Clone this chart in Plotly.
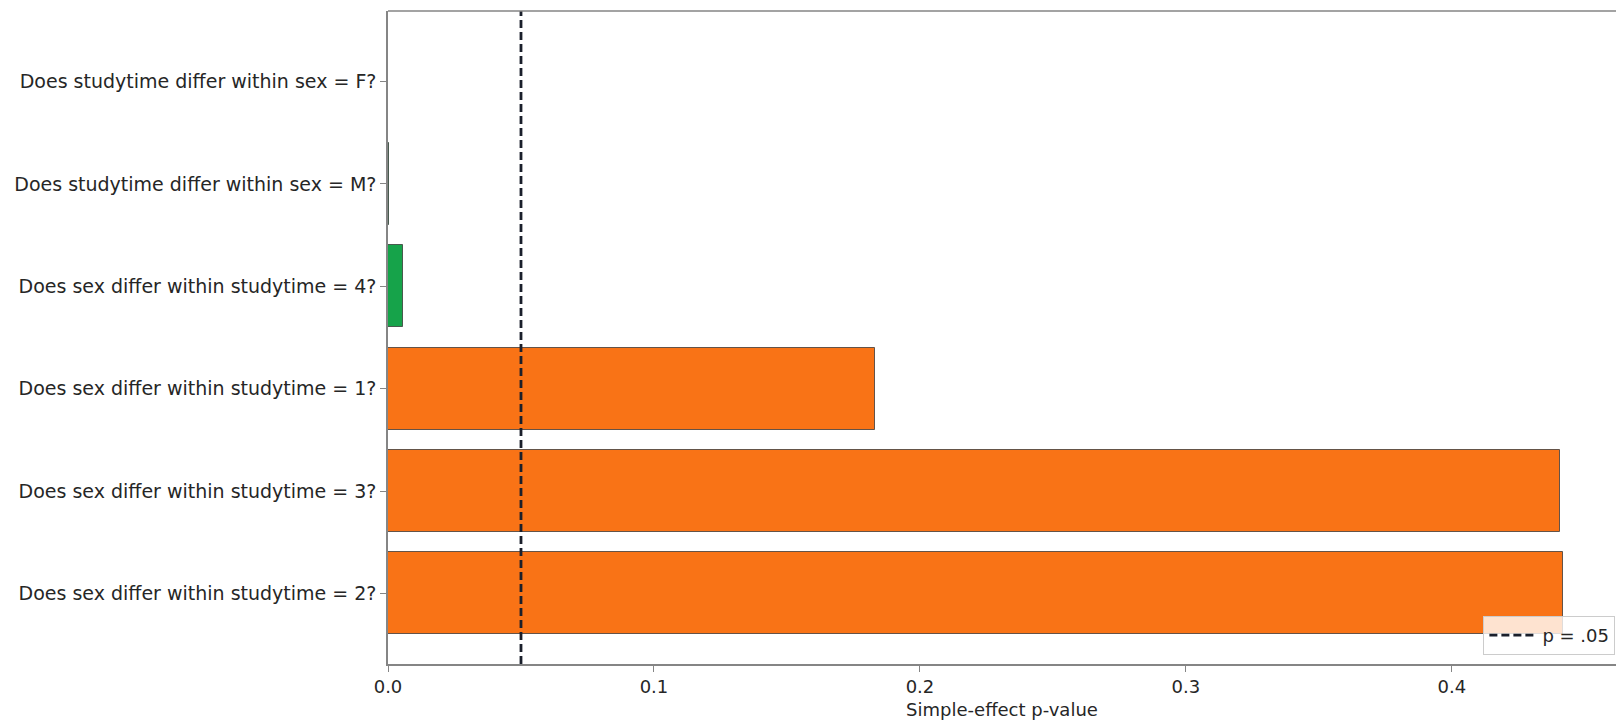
import plotly.graph_objects as go

# Simple-effect questions, listed bottom to top on the y axis
questions = [
    "Does sex differ within studytime = 2?",
    "Does sex differ within studytime = 3?",
    "Does sex differ within studytime = 1?",
    "Does sex differ within studytime = 4?",
    "Does studytime differ within sex = M?",
    "Does studytime differ within sex = F?",
]
p_values = [0.4419, 0.4406, 0.1831, 0.0055, 0.0003, 0.0]
alpha = 0.05
x_ticks = [0.0, 0.1, 0.2, 0.3, 0.4]
x_tick_labels = ["0.0", "0.1", "0.2", "0.3", "0.4"]

SIG_COLOR = "#16A34A"
NONSIG_COLOR = "#F97316"
TEXT = "#262626"
SPINE = "#858585"
FONT = "DejaVu Sans"
FS = 19

positions = list(range(len(questions)))
colors = [SIG_COLOR if p < alpha else NONSIG_COLOR for p in p_values]
y_lo, y_hi = -0.69, 5.69

fig = go.Figure()
fig.add_trace(go.Bar(
    x=p_values,
    y=positions,
    orientation="h",
    width=0.8,
    marker=dict(color=colors, line=dict(color="rgba(50,50,50,0.75)", width=1)),
    showlegend=False,
    hoverinfo="x+y",
))
fig.add_trace(go.Scatter(
    x=[alpha, alpha],
    y=[y_lo, y_hi],
    mode="lines",
    line=dict(color="#1a1f2b", width=2.8, dash="8px,4px"),
    name="p = .05",
))

fig.update_layout(
    width=1616,
    height=722,
    margin=dict(l=388, r=0, t=11, b=58),
    paper_bgcolor="white",
    plot_bgcolor="white",
    font=dict(family=FONT, size=FS, color=TEXT),
    bargap=0,
    legend=dict(
        x=0.9995, y=0.014, xanchor="right", yanchor="bottom",
        bgcolor="rgba(255,255,255,0.8)",
        bordercolor="#cccccc", borderwidth=1,
        font=dict(family=FONT, size=FS - 1, color=TEXT),
        itemwidth=48,
    ),
    xaxis=dict(
        range=[0, 0.4617],
        tickvals=x_ticks,
        ticktext=x_tick_labels,
        ticks="outside", ticklen=6, tickwidth=1.2, tickcolor=SPINE,
        showline=True, linecolor=SPINE, linewidth=1.5,
        showgrid=False, zeroline=False,
        title=dict(text="Simple-effect p-value", standoff=7,
                   font=dict(family=FONT, size=FS - 1, color=TEXT)),
        tickfont=dict(family=FONT, size=FS - 1, color=TEXT),
    ),
    yaxis=dict(
        range=[y_lo, y_hi],
        tickvals=positions,
        ticktext=questions,
        ticks="outside", ticklen=6, tickwidth=1.2, tickcolor=SPINE,
        showline=True, linecolor=SPINE, linewidth=1.5,
        showgrid=False, zeroline=False,
        tickfont=dict(family=FONT, size=FS, color=TEXT),
    ),
    shapes=[dict(type="line", xref="paper", yref="paper",
                 x0=0, x1=1, y0=1, y1=1,
                 line=dict(color=SPINE, width=1.5))],
)

fig.write_html("out.html")
